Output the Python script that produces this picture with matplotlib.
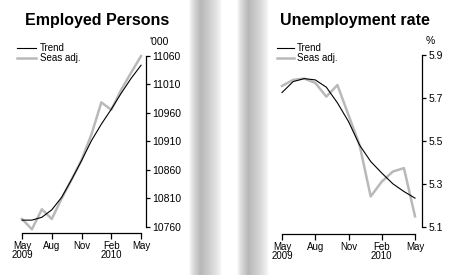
import numpy as np
import matplotlib
matplotlib.use('Agg')
from matplotlib import pyplot as plt

plt.rcParams['font.family'] = ['Liberation Sans', 'DejaVu Sans']

# месяцы: May 2009 .. May 2010
months = np.arange(13)
tick_pos = [0, 3, 6, 9, 12]
tick_labels = ['May\n2009', 'Aug', 'Nov', 'Feb\n2010', 'May']

# Employed Persons, '000
emp_trend = [10772, 10772, 10777, 10790, 10812, 10843, 10876, 10911, 10940, 10966, 10994, 11020, 11043]
emp_seas = [10774, 10756, 10791, 10774, 10810, 10843, 10877, 10922, 10978, 10965, 11000, 11030, 11059]
emp_yticks = [10760, 10810, 10860, 10910, 10960, 11010, 11060]

# Unemployment rate, %
ur_trend = [5.725, 5.776, 5.79, 5.784, 5.75, 5.677, 5.59, 5.48, 5.404, 5.35, 5.30, 5.264, 5.233]
ur_seas = [5.756, 5.784, 5.79, 5.77, 5.706, 5.76, 5.62, 5.48, 5.241, 5.31, 5.357, 5.373, 5.148]
ur_yticks = [5.1, 5.3, 5.5, 5.7, 5.9]

W, H = 455, 275
GRAY = '#b9b9b9'

fig = plt.figure(figsize=(W / 100, H / 100), dpi=100)


def px(x0, y_top, w, h):
    """Прямоугольник в пикселях (от верхнего левого угла) -> доли фигуры."""
    return [x0 / W, 1 - (y_top + h) / H, w / W, h / H]


# серые полосы-разделители
t = np.linspace(0, 1, 64)
shape = np.where(t < 0.35, t / 0.35, (1 - t) / 0.65)
shade = 1 - 0.28 * np.clip(shape, 0, 1) ** 0.7
grad = np.tile(shade, (2, 1))
for x0 in (189, 237):
    bax = fig.add_axes(px(x0, 0, 32, H))
    bax.imshow(grad, cmap='gray', vmin=0, vmax=1, aspect='auto', interpolation='bilinear')
    bax.axis('off')


def setup(ax, xmax, ylim, yticks, ylabels):
    ax.set_xlim(0, xmax)
    ax.set_ylim(*ylim)
    for s in ('top', 'left'):
        ax.spines[s].set_visible(False)
    ax.spines['bottom'].set_bounds(0, 12)
    ax.spines['right'].set_bounds(yticks[0], yticks[-1])
    for s in ('bottom', 'right'):
        ax.spines[s].set_linewidth(0.9)
    ax.yaxis.tick_right()
    ax.set_xticks(tick_pos)
    ax.set_xticklabels(tick_labels, fontsize=7, linespacing=0.95)
    ax.set_yticks(yticks)
    ax.set_yticklabels(ylabels, fontsize=7.5)
    ax.tick_params(axis='x', direction='out', length=4, width=0.9, pad=1.5)
    ax.tick_params(axis='y', direction='out', length=3, width=0.9, pad=1.5)
    ax.patch.set_alpha(0)


# --- Employed Persons
ax1 = fig.add_axes(px(22, 55.5, 124, 177.5))
ax1.plot(months, emp_seas, color=GRAY, lw=1.8, label='Seas adj.', clip_on=False)
ax1.plot(months, emp_trend, color='black', lw=0.8, label='Trend', clip_on=False)
setup(ax1, 12.5, (10749.5, 11060), emp_yticks, [str(v) for v in emp_yticks])
h, l = ax1.get_legend_handles_labels()
fig.legend(h[::-1], l[::-1], loc='upper left', bbox_to_anchor=(17 / W, 1 - 43 / H),
           fontsize=7, frameon=False, handlelength=2.0, handletextpad=0.35,
           labelspacing=0.05, borderpad=0, borderaxespad=0)
fig.text(97 / W, 1 - 21 / H, 'Employed Persons', ha='center', va='center',
         fontsize=11.5, fontweight='bold')
fig.text(149 / W, 1 - 42 / H, "'000", ha='left', va='center', fontsize=7.5)

# --- Unemployment rate
ax2 = fig.add_axes(px(282, 55, 140, 179))
ax2.plot(months, ur_seas, color=GRAY, lw=1.8, label='Seas adj.', clip_on=False)
ax2.plot(months, ur_trend, color='black', lw=0.8, label='Trend', clip_on=False)
setup(ax2, 12.63, (5.066, 5.9), ur_yticks, ['%.1f' % v for v in ur_yticks])
h, l = ax2.get_legend_handles_labels()
fig.legend(h[::-1], l[::-1], loc='upper left', bbox_to_anchor=(277 / W, 1 - 43 / H),
           fontsize=7, frameon=False, handlelength=1.7, handletextpad=0.35,
           labelspacing=0.05, borderpad=0, borderaxespad=0)
fig.text(355 / W, 1 - 21 / H, 'Unemployment rate', ha='center', va='center',
         fontsize=11.5, fontweight='bold')
fig.text(426 / W, 1 - 41 / H, '%', ha='left', va='center', fontsize=7.5)

fig.savefig('out.png', dpi=100)
